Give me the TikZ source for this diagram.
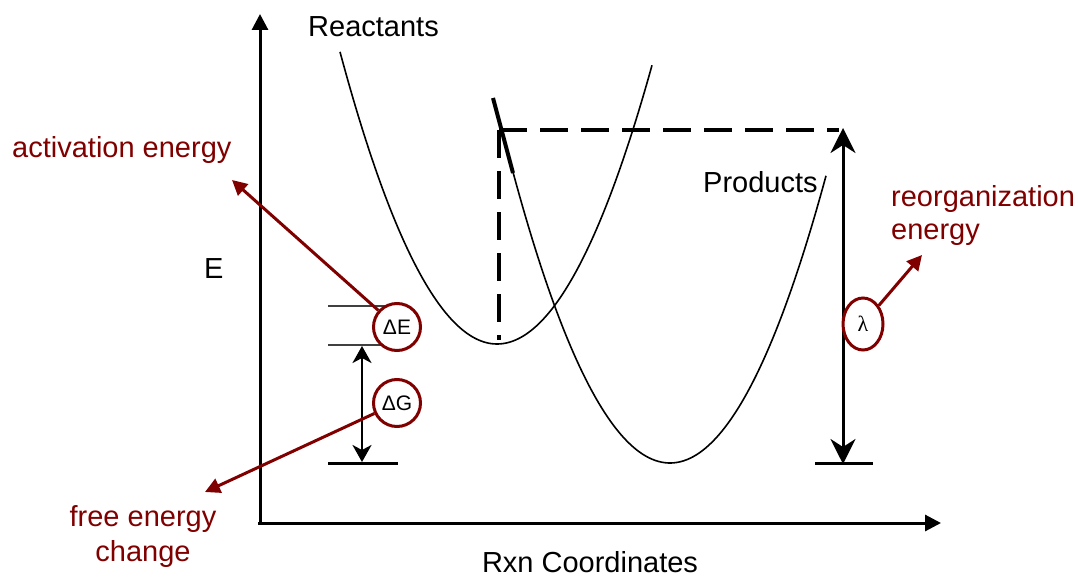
\documentclass[tikz,border=0pt]{standalone}
\usepackage{fontspec}
\setmainfont{Liberation Sans}
\newfontfamily\lamfont{Liberation Serif}
\usetikzlibrary{arrows.meta,shapes.geometric}
\definecolor{dred}{RGB}{128,0,0}
\tikzset{
  txt/.style={inner sep=0pt,font=\fontsize{29}{34}\selectfont},
  redtxt/.style={txt,text=dred},
  axis/.style={line width=3pt,-{Triangle[length=16pt,width=16pt]}},
  curve/.style={line width=1.6pt},
  dashline/.style={line width=4pt,dash pattern=on 28pt off 13pt},
  ring/.style={draw=dred,line width=3pt,circle,minimum size=47pt,inner sep=0pt,font=\fontsize{21}{24}\selectfont},
  redarrow/.style={draw=dred,line width=3pt,-{Triangle[length=15pt,width=15pt]}},
  bigdbl/.style={line width=3pt,{Stealth[length=25pt,width=25pt,inset=8pt]}-{Stealth[length=25pt,width=25pt,inset=8pt]}},
  smalldbl/.style={line width=2.5pt,{Stealth[length=17pt,width=19pt,inset=5pt]}-{Stealth[length=17pt,width=19pt,inset=5pt]}},
  level/.style={line width=3pt},
  thinlevel/.style={line width=2pt,black!75}
}
\begin{document}
\begin{tikzpicture}[x=1pt,y=-1pt]
\useasboundingbox (0,0) rectangle (1078,578);
% axes
\coordinate (origin) at (260,523);
\coordinate (ytip) at (260,14);
\coordinate (xtip) at (941,523);
\draw[axis] (origin) -- (ytip);
\draw[axis] (258,523) -- (xtip);
% labels
\node[txt,anchor=base west] (react) at (308,37) {Reactants};
\node[txt,anchor=base west] (prod) at (703,192) {Products};
\node[txt,anchor=base west] (elab) at (204,278) {E};
\node[txt,anchor=base] (rxn) at (590,572) {Rxn Coordinates};
% reactant parabola
\draw[curve] plot[domain=340:497,samples=60] (\x,{344-1.185*(0.1*(\x-497))^2});
\draw[curve] plot[domain=497:652,samples=60] (\x,{344-1.16*(0.1*(\x-497))^2});
% product parabola
\draw[curve] plot[domain=513:826,samples=100] (\x,{463-1.18*(0.1*(\x-670))^2});
\draw[line width=4pt] (493,98) -- (513,173);
% dashed lines
\coordinate (corner) at (499,130);
\coordinate (rtop) at (839,130);
\coordinate (rbot) at (499,340);
\draw[dashline] (corner) -- (rtop);
\draw[dashline] (corner) -- (rbot);
% lambda arrow
\coordinate (lamtop) at (843,128);
\coordinate (lambot) at (843,464);
\draw[bigdbl] (lamtop) -- (lambot);
\draw[level] (815,463) -- (873,463);
% left levels
\draw[thinlevel] (328,306) -- (398,306);
\draw[thinlevel] (328,345) -- (398,345);
\draw[level] (328,463) -- (398,463);
\coordinate (dgtop) at (362,346);
\coordinate (dgbot) at (362,462);
\draw[smalldbl] (dgtop) -- (dgbot);
% circles
\node[ring,fill=white] (dE) at (397,327) {ΔE};
\node[ring,fill=white] (dG) at (397,403) {ΔG};
\node[draw=dred,fill=white,line width=3pt,ellipse,minimum width=40pt,minimum height=52pt,inner sep=0pt,font=\fontsize{22}{24}\lamfont] (lam) at (863,324) {λ};
% red arrows and texts
\coordinate (aE) at (232,180);
\coordinate (aG) at (205,492);
\coordinate (aL) at (922,255);
\draw[redarrow] (dE) -- (aE);
\draw[redarrow] (dG) -- (aG);
\draw[redarrow] (lam) -- (aL);
\node[redtxt,anchor=base west] (act) at (12,157) {activation energy};
\node[redtxt,anchor=base] (free1) at (143,526) {free energy};
\node[redtxt,anchor=base] (free2) at (143,561) {change};
\node[redtxt,anchor=base west] (reorg1) at (891,206) {reorganization};
\node[redtxt,anchor=base west] (reorg2) at (891,239) {energy};
\end{tikzpicture}
\end{document}
